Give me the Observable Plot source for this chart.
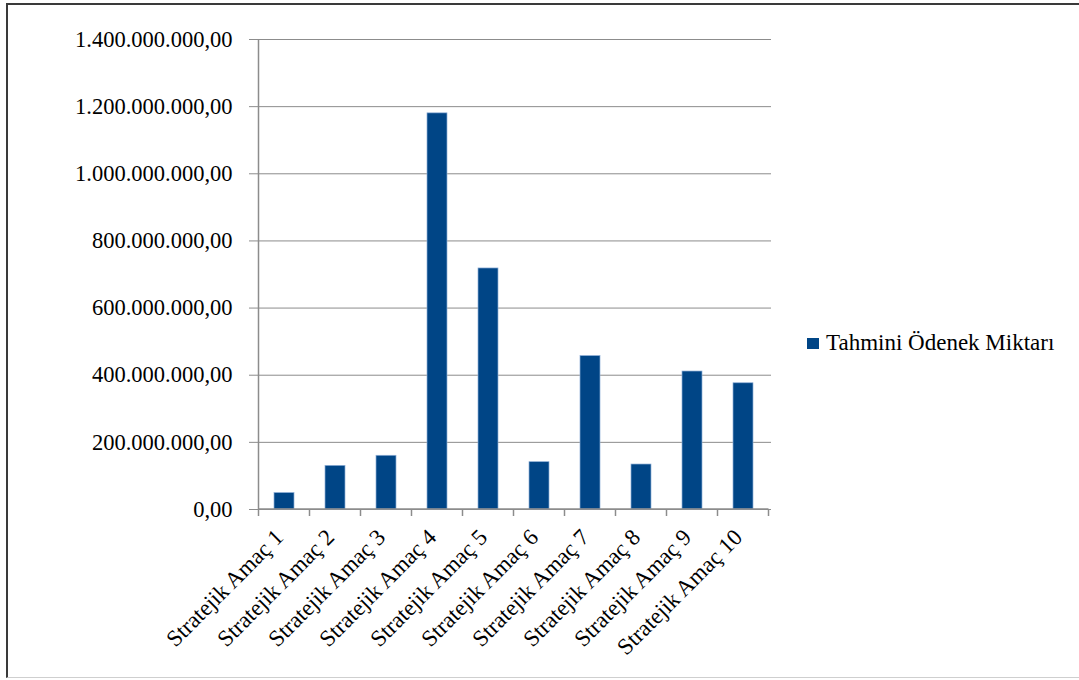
<!DOCTYPE html>
<html>
<head>
<meta charset="utf-8">
<script src="https://cdn.jsdelivr.net/npm/d3@7"></script>
<script src="https://cdn.jsdelivr.net/npm/@observablehq/plot@0.6"></script>
<style>
  html, body { margin: 0; padding: 0; background: #fff; }
  body { width: 1079px; height: 680px; position: relative; overflow: hidden; font-family: "Liberation Serif", serif; }
  #frame { position: absolute; left: 6px; top: 3px; width: 1200px; height: 675px; border-left: 2px solid #3a3a3a; border-top: 2px solid #3a3a3a; border-bottom: 1px solid #cfcfcf; box-sizing: border-box; }
  #chart { position: absolute; left: 0; top: 0; }
  #legend { position: absolute; left: 807px; top: 330px; display: flex; align-items: center; font-size: 23px; color: #000; white-space: nowrap; }
  #legend .sw { width: 12px; height: 11px; background: #004586; margin-right: 7px; }
</style>
</head>
<body>
<div id="frame"></div>
<div id="chart"></div>
<div id="legend"><span class="sw"></span><span id="legend-label"></span></div>
<script>
const categories = ["Stratejik Amaç 1","Stratejik Amaç 2","Stratejik Amaç 3","Stratejik Amaç 4","Stratejik Amaç 5","Stratejik Amaç 6","Stratejik Amaç 7","Stratejik Amaç 8","Stratejik Amaç 9","Stratejik Amaç 10"];
const values = [49000000, 130000000, 160000000, 1180000000, 718000000, 141000000, 457000000, 134000000, 411000000, 376000000];
const seriesName = "Tahmini Ödenek Miktarı";
const yTicks = [0, 200000000, 400000000, 600000000, 800000000, 1000000000, 1200000000, 1400000000];

const data = categories.map((c, i) => ({category: c, value: values[i]}));
const trFormat = d3.formatLocale({decimal: ",", thousands: ".", grouping: [3], currency: ["", ""]}).format(",.2f");

document.getElementById("legend-label").textContent = seriesName;

const chart = Plot.plot({
  width: 1079,
  height: 680,
  marginLeft: 256,
  marginRight: 308,
  marginTop: 39,
  marginBottom: 171,
  style: {fontFamily: "Liberation Serif, serif", color: "#000", background: "transparent"},
  x: {domain: categories, paddingInner: 0.6, paddingOuter: 0.3, align: 0.5, label: null},
  y: {domain: [0, 1400000000], label: null},
  marks: [
    Plot.gridY(yTicks, {stroke: "#8c8c8c", strokeOpacity: 1, strokeWidth: 1}),
    Plot.barY(data, {x: "category", y: "value", fill: "#004586", stroke: "#8eaed6", strokeWidth: 0.7}),
    Plot.axisY(yTicks, {tickFormat: trFormat, tickSize: 7, tickPadding: 17, stroke: "#8c8c8c", fill: "#000", fontSize: 22.5, fontFamily: "Liberation Serif", label: null}),
    Plot.axisX({tickSize: 0, tickRotate: -45, tickPadding: 24, dx: -5, fill: "#000", fontSize: 23, fontFamily: "Liberation Serif", label: null})
  ]
});
document.getElementById("chart").appendChild(chart);

// axis lines and band-boundary ticks drawn with the Plot scales
const xs = chart.scale("x");
const ys = chart.scale("y");
const svg = d3.select(chart);
const y0 = ys.apply(0);
const yTop = ys.apply(1400000000);
const step = xs.step, bw = xs.bandwidth;
const bounds = categories.map(c => xs.apply(c) - (step - bw) / 2);
bounds.push(bounds[bounds.length - 1] + step);
const g = svg.append("g").attr("stroke", "#8c8c8c").attr("stroke-width", 1.5);
g.append("line").attr("x1", bounds[0]).attr("x2", bounds[0]).attr("y1", yTop).attr("y2", y0);
g.append("line").attr("x1", bounds[0]).attr("x2", bounds[bounds.length - 1]).attr("y1", y0).attr("y2", y0);
bounds.forEach(b => g.append("line").attr("x1", b).attr("x2", b).attr("y1", y0).attr("y2", y0 + 7));
</script>
</body>
</html>
